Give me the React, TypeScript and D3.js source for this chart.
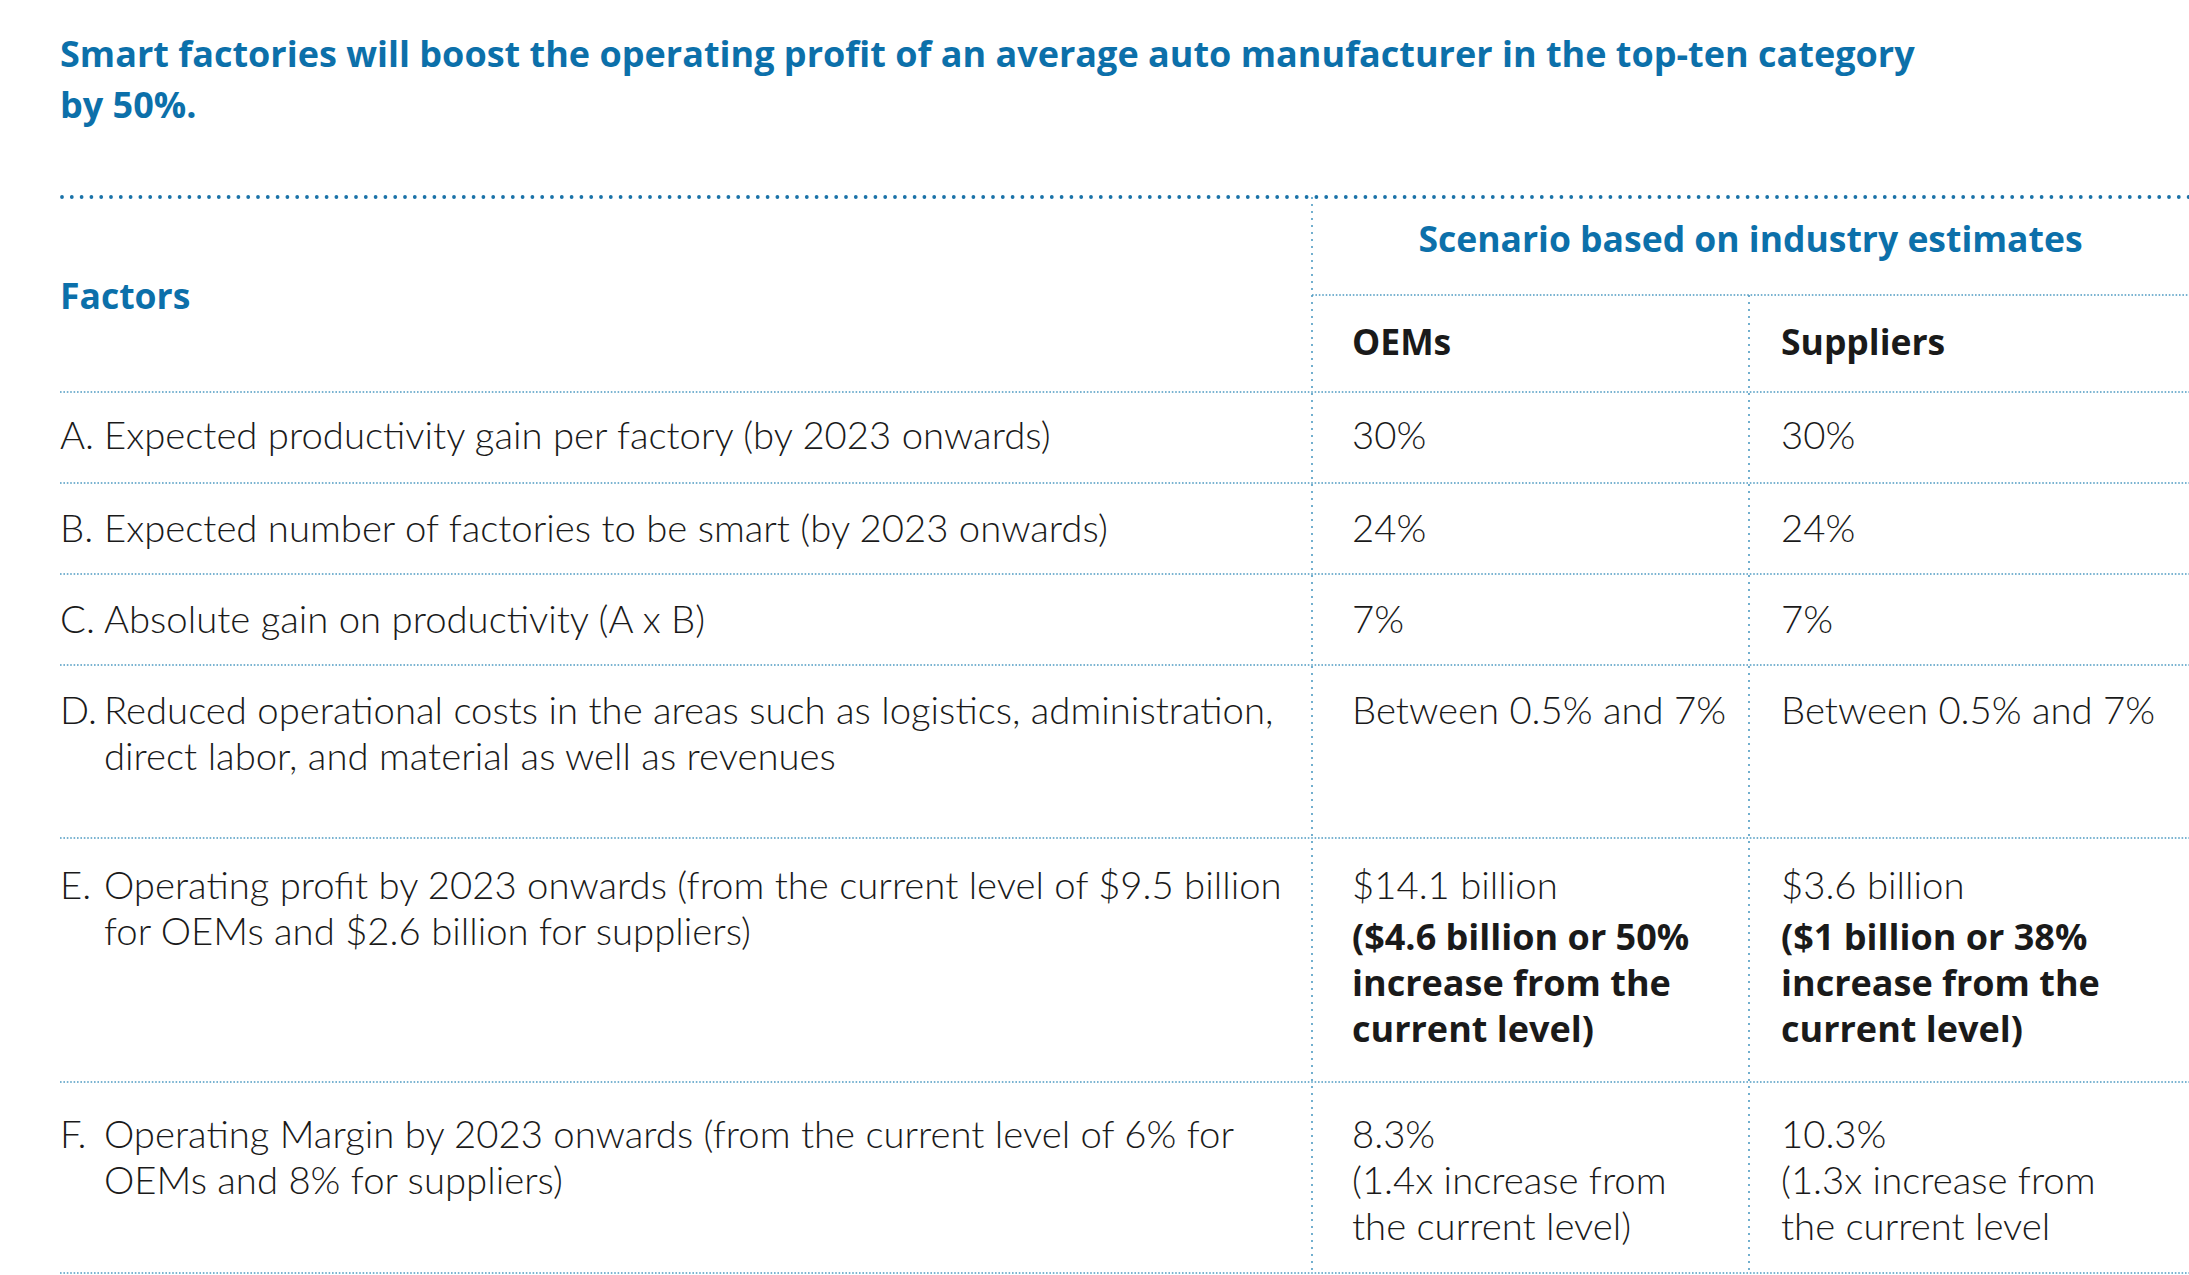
import React, { useEffect, useRef } from "react";
import * as d3 from "d3";

const titleLines = [
  "Smart factories will boost the operating profit of an average auto manufacturer in the top-ten category",
  "by 50%.",
];
const groupHeader = "Scenario based on industry estimates";
const factorsHeader = "Factors";
const columnHeaders = ["OEMs", "Suppliers"];
const factorLetters = ["A.", "B.", "C.", "D.", "E.", "F."];
const factorTexts = [
  ["Expected productivity gain per factory (by 2023 onwards)"],
  ["Expected number of factories to be smart (by 2023 onwards)"],
  ["Absolute gain on productivity (A x B)"],
  ["Reduced operational costs in the areas such as logistics, administration,", "direct labor, and material as well as revenues"],
  ["Operating profit by 2023 onwards (from the current level of $9.5 billion", "for OEMs and $2.6 billion for suppliers)"],
  ["Operating Margin by 2023 onwards (from the current level of 6% for", "OEMs and 8% for suppliers)"],
];
const oemValues = [
  ["30%"],
  ["24%"],
  ["7%"],
  ["Between 0.5% and 7%"],
  ["$14.1 billion"],
  ["8.3%", "(1.4x increase from", "the current level)"],
];
const oemBold = [[], [], [], [], ["($4.6 billion or 50%", "increase from the", "current level)"], []];
const supplierValues = [
  ["30%"],
  ["24%"],
  ["7%"],
  ["Between 0.5% and 7%"],
  ["$3.6 billion"],
  ["10.3%", "(1.3x increase from", "the current level"],
];
const supplierBold = [[], [], [], [], ["($1 billion or 38%", "increase from the", "current level)"], []];

// layout
const W = 2189;
const H = 1275;
const rowHeights = [91, 91, 91, 173, 244, 191];
const rowTextOffsets = [57, 59, 59, 59, 61, 66];
const BLUE = "#0c70aa";
const LINE = "#4f9bc2";
const TEXT = "#1a1a1a";
const LIGHT_FONT = "Lato, 'Open Sans', sans-serif";
const BOLD_FONT = "'Open Sans', Lato, sans-serif";

export default function App() {
  const ref = useRef<SVGSVGElement>(null);
  useEffect(() => {
    document.body.style.margin = "0";
    document.body.style.overflow = "hidden";
    const svg = d3.select(ref.current);
    svg.selectAll("*").remove();

    const left = 60;
    const col1 = 1312;
    const col2 = 1749;
    const topLine = 197;
    const subLine = 295;
    const headLine = 392;
    const lh = 46;

    const x = d3.scaleOrdinal<string, number>().domain(["label", "oem", "sup"]).range([left, col1 + 40, col2 + 32]);
    const bounds = [headLine, ...d3.cumsum(rowHeights).map((v) => v + headLine)];

    // title
    svg
      .append("g")
      .selectAll("text")
      .data(titleLines)
      .join("text")
      .attr("x", left)
      .attr("y", (_, i) => 67 + i * 51)
      .attr("fill", BLUE)
      .attr("font-family", BOLD_FONT)
      .attr("font-weight", 700)
      .attr("font-size", 36)
      .text((d) => d);

    // top thick dotted line
    svg
      .append("line")
      .attr("x1", left + 2)
      .attr("x2", W)
      .attr("y1", topLine)
      .attr("y2", topLine)
      .attr("stroke", "#1a72a8")
      .attr("stroke-width", 3.8)
      .attr("stroke-linecap", "round")
      .attr("stroke-dasharray", "0 9.8");

    const hLine = (x1: number, yy: number) =>
      svg
        .append("line")
        .attr("x1", x1)
        .attr("x2", W)
        .attr("y1", yy)
        .attr("y2", yy)
        .attr("stroke", LINE)
        .attr("stroke-width", 1.6)
        .attr("stroke-dasharray", "1.6 1.8");
    hLine(col1, subLine);
    bounds.forEach((b) => hLine(left, b));

    const vLine = (xx: number, y1: number) =>
      svg
        .append("line")
        .attr("x1", xx)
        .attr("x2", xx)
        .attr("y1", y1)
        .attr("y2", H)
        .attr("stroke", LINE)
        .attr("stroke-width", 1.6)
        .attr("stroke-dasharray", "2 5");
    vLine(col1, topLine);
    vLine(col2, subLine);

    // headers
    svg
      .append("text")
      .attr("x", (col1 + W) / 2)
      .attr("y", 252)
      .attr("text-anchor", "middle")
      .attr("fill", BLUE)
      .attr("font-family", BOLD_FONT)
      .attr("font-weight", 700)
      .attr("font-size", 35.5)
      .text(groupHeader);
    svg
      .append("text")
      .attr("x", left)
      .attr("y", 309)
      .attr("fill", BLUE)
      .attr("font-family", BOLD_FONT)
      .attr("font-weight", 700)
      .attr("font-size", 35.5)
      .text(factorsHeader);
    svg
      .append("g")
      .selectAll("text")
      .data(columnHeaders)
      .join("text")
      .attr("x", (_, i) => x(i === 0 ? "oem" : "sup"))
      .attr("y", 355)
      .attr("fill", TEXT)
      .attr("font-family", BOLD_FONT)
      .attr("font-weight", 700)
      .attr("font-size", 35.5)
      .text((d) => d);

    // rows
    const rows = svg
      .append("g")
      .selectAll("g")
      .data(d3.range(factorLetters.length))
      .join("g")
      .attr("transform", (i) => `translate(0,${bounds[i] + rowTextOffsets[i]})`)
      .attr("font-family", LIGHT_FONT)
      .attr("font-size", 38.3)
      .attr("fill", TEXT);

    rows
      .append("text")
      .attr("x", left)
      .attr("font-weight", 300)
      .text((i) => factorLetters[i]);

    rows.each(function (i) {
      const g = d3.select(this);
      factorTexts[i].forEach((t, k) => {
        g.append("text").attr("x", left + 44).attr("y", k * lh).attr("font-weight", 300).text(t);
      });
      const addCol = (vals: string[], bold: string[], cx: number) => {
        vals.forEach((t, k) => {
          g.append("text").attr("x", cx).attr("y", k * lh).attr("font-weight", 300).text(t);
        });
        bold.forEach((t, k) => {
          g.append("text")
            .attr("x", cx)
            .attr("y", (vals.length + k) * lh + 5)
            .attr("font-family", BOLD_FONT)
            .attr("font-size", 36)
            .attr("font-weight", 700)
            .text(t);
        });
      };
      addCol(oemValues[i], oemBold[i], x("oem"));
      addCol(supplierValues[i], supplierBold[i], x("sup"));
    });
  }, []);

  return <svg ref={ref} width={W} height={H} style={{ display: "block", background: "#fff" }} />;
}
